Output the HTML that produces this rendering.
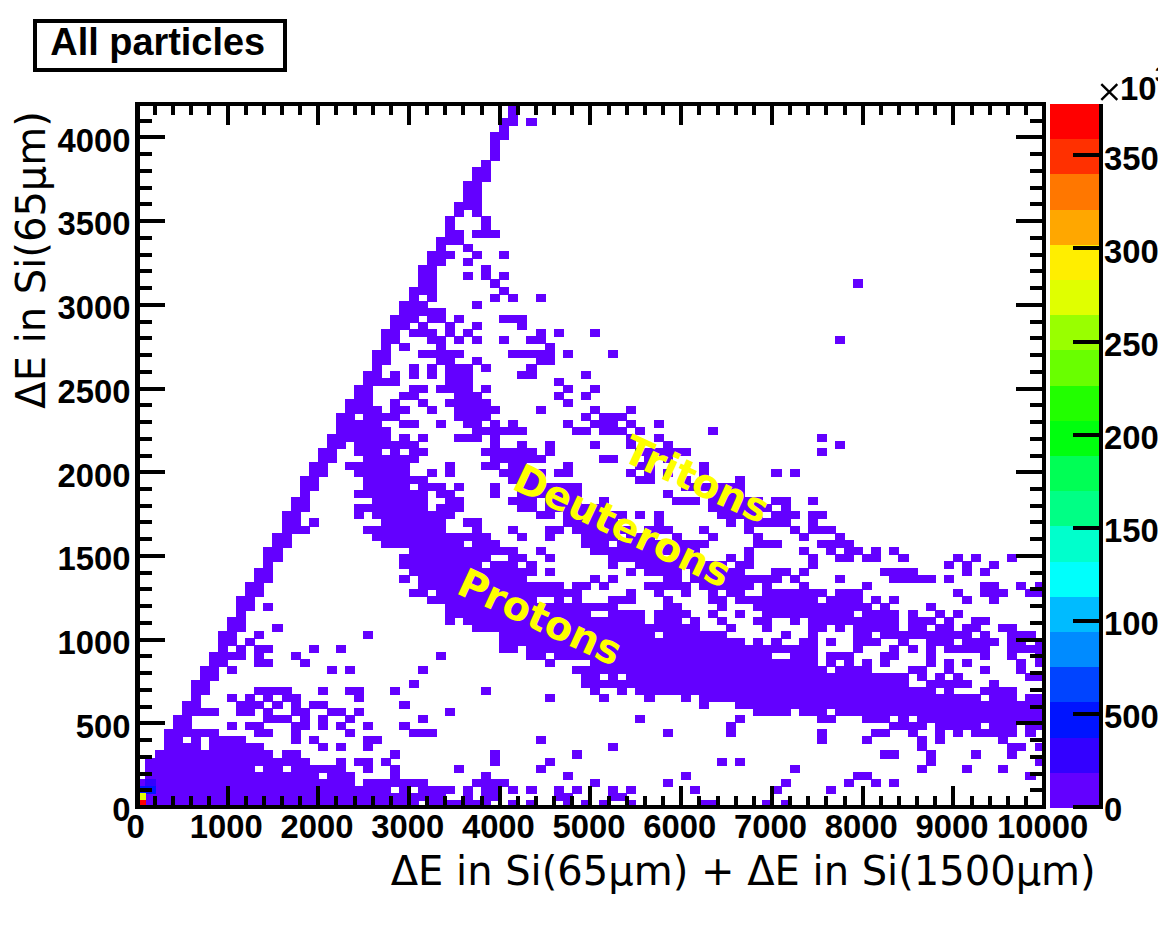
<!DOCTYPE html>
<html><head><meta charset="utf-8"><title>All particles</title>
<style>html,body{margin:0;padding:0;background:#fff}body{width:1164px;height:927px;overflow:hidden}svg{display:block}text{font-family:"Liberation Sans",sans-serif;font-weight:bold;fill:#000}</style></head><body>
<svg width="1164" height="927" viewBox="0 0 1164 927">
<rect width="1164" height="927" fill="#fff"/>
<g shape-rendering="crispEdges">
<path fill="#6300ff" d="M145 800h274v8h-274zM427 800h64v8h-64zM508 800h10v8h-10zM526 800h11v8h-11zM563 800h10v8h-10zM581 800h10v8h-10zM599 800h10v8h-10zM626 800h10v8h-10zM699 800h19v8h-19zM762 800h10v8h-10zM781 800h10v8h-10zM145 793h301v8h-301zM463 793h10v8h-10zM481 793h19v8h-19zM554 793h19v8h-19zM608 793h19v8h-19zM155 786h236v8h-236zM399 786h11v8h-11zM418 786h37v8h-37zM463 786h10v8h-10zM481 786h19v8h-19zM508 786h10v8h-10zM526 786h11v8h-11zM554 786h10v8h-10zM572 786h10v8h-10zM608 786h10v8h-10zM626 786h10v8h-10zM690 786h10v8h-10zM771 786h11v8h-11zM826 786h10v8h-10zM136 779h10v8h-10zM155 779h200v8h-200zM363 779h65v8h-65zM472 779h37v8h-37zM590 779h10v8h-10zM663 779h10v8h-10zM781 779h10v8h-10zM844 779h10v8h-10zM871 779h10v8h-10zM889 779h10v8h-10zM145 772h174v8h-174zM327 772h28v8h-28zM390 772h10v8h-10zM481 772h10v8h-10zM563 772h10v8h-10zM681 772h10v8h-10zM853 772h19v8h-19zM1025 772h11v8h-11zM145 765h110v8h-110zM263 765h20v8h-20zM291 765h55v8h-55zM363 765h10v8h-10zM390 765h10v8h-10zM454 765h10v8h-10zM536 765h10v8h-10zM790 765h10v8h-10zM917 765h10v8h-10zM962 765h10v8h-10zM998 765h10v8h-10zM145 758h165v8h-165zM336 758h10v8h-10zM354 758h19v8h-19zM381 758h10v8h-10zM490 758h10v8h-10zM545 758h10v8h-10zM717 758h10v8h-10zM735 758h10v8h-10zM926 758h10v8h-10zM1035 758h10v8h-10zM155 750h118v9h-118zM282 750h19v9h-19zM390 750h10v9h-10zM490 750h10v9h-10zM572 750h10v9h-10zM880 750h19v9h-19zM926 750h10v9h-10zM971 750h10v9h-10zM1007 750h10v9h-10zM164 743h37v8h-37zM209 743h55v8h-55zM318 743h10v8h-10zM336 743h10v8h-10zM363 743h10v8h-10zM608 743h10v8h-10zM917 743h10v8h-10zM1007 743h19v8h-19zM1035 743h10v8h-10zM164 736h19v8h-19zM191 736h10v8h-10zM209 736h37v8h-37zM291 736h10v8h-10zM309 736h10v8h-10zM363 736h19v8h-19zM536 736h10v8h-10zM817 736h10v8h-10zM862 736h10v8h-10zM917 736h10v8h-10zM935 736h10v8h-10zM998 736h10v8h-10zM164 729h55v8h-55zM254 729h19v8h-19zM291 729h10v8h-10zM345 729h10v8h-10zM409 729h28v8h-28zM663 729h10v8h-10zM726 729h10v8h-10zM817 729h10v8h-10zM871 729h19v8h-19zM908 729h10v8h-10zM935 729h10v8h-10zM953 729h10v8h-10zM971 729h46v8h-46zM1025 729h11v8h-11zM173 722h19v8h-19zM227 722h10v8h-10zM245 722h19v8h-19zM291 722h19v8h-19zM318 722h10v8h-10zM336 722h10v8h-10zM363 722h10v8h-10zM399 722h11v8h-11zM726 722h10v8h-10zM889 722h38v8h-38zM935 722h46v8h-46zM989 722h28v8h-28zM1025 722h20v8h-20zM173 715h19v8h-19zM263 715h29v8h-29zM300 715h10v8h-10zM318 715h10v8h-10zM345 715h10v8h-10zM418 715h10v8h-10zM635 715h10v8h-10zM735 715h10v8h-10zM817 715h19v8h-19zM862 715h28v8h-28zM898 715h11v8h-11zM917 715h128v8h-128zM182 708h37v8h-37zM236 708h19v8h-19zM263 708h10v8h-10zM291 708h19v8h-19zM327 708h19v8h-19zM354 708h10v8h-10zM445 708h10v8h-10zM753 708h38v8h-38zM799 708h28v8h-28zM835 708h210v8h-210zM182 701h19v8h-19zM236 701h28v8h-28zM272 701h11v8h-11zM291 701h10v8h-10zM309 701h19v8h-19zM399 701h11v8h-11zM699 701h10v8h-10zM735 701h310v8h-310zM191 694h10v8h-10zM227 694h10v8h-10zM245 694h10v8h-10zM263 694h10v8h-10zM282 694h19v8h-19zM354 694h10v8h-10zM545 694h10v8h-10zM599 694h10v8h-10zM644 694h11v8h-11zM681 694h10v8h-10zM699 694h282v8h-282zM989 694h28v8h-28zM1025 694h20v8h-20zM191 687h19v8h-19zM254 687h38v8h-38zM318 687h10v8h-10zM345 687h19v8h-19zM390 687h10v8h-10zM481 687h10v8h-10zM590 687h10v8h-10zM617 687h10v8h-10zM635 687h301v8h-301zM944 687h10v8h-10zM980 687h37v8h-37zM191 680h19v8h-19zM409 680h10v8h-10zM581 680h328v8h-328zM926 680h46v8h-46zM989 680h10v8h-10zM200 673h19v8h-19zM581 673h19v8h-19zM608 673h10v8h-10zM626 673h283v8h-283zM917 673h10v8h-10zM935 673h10v8h-10zM953 673h10v8h-10zM1025 673h20v8h-20zM200 666h19v8h-19zM227 666h10v8h-10zM327 666h10v8h-10zM345 666h10v8h-10zM418 666h10v8h-10zM572 666h255v8h-255zM835 666h37v8h-37zM908 666h19v8h-19zM944 666h10v8h-10zM980 666h10v8h-10zM1016 666h10v8h-10zM209 659h19v8h-19zM254 659h19v8h-19zM300 659h10v8h-10zM545 659h10v8h-10zM590 659h228v8h-228zM826 659h10v8h-10zM844 659h10v8h-10zM862 659h10v8h-10zM880 659h10v8h-10zM926 659h10v8h-10zM944 659h10v8h-10zM962 659h10v8h-10zM1016 659h10v8h-10zM1035 659h10v8h-10zM209 652h37v8h-37zM254 652h10v8h-10zM291 652h10v8h-10zM436 652h10v8h-10zM526 652h20v8h-20zM554 652h218v8h-218zM790 652h28v8h-28zM826 652h28v8h-28zM880 652h19v8h-19zM926 652h10v8h-10zM980 652h10v8h-10zM1007 652h10v8h-10zM1035 652h10v8h-10zM218 645h10v8h-10zM236 645h10v8h-10zM254 645h19v8h-19zM309 645h10v8h-10zM336 645h10v8h-10zM499 645h19v8h-19zM526 645h292v8h-292zM853 645h10v8h-10zM889 645h10v8h-10zM908 645h10v8h-10zM926 645h10v8h-10zM944 645h46v8h-46zM1007 645h38v8h-38zM218 638h19v8h-19zM245 638h10v8h-10zM499 638h246v8h-246zM753 638h10v8h-10zM771 638h11v8h-11zM799 638h19v8h-19zM826 638h10v8h-10zM853 638h28v8h-28zM898 638h11v8h-11zM926 638h28v8h-28zM962 638h37v8h-37zM1007 638h19v8h-19zM1035 638h10v8h-10zM218 631h19v8h-19zM254 631h10v8h-10zM363 631h10v8h-10zM499 631h156v8h-156zM663 631h64v8h-64zM781 631h10v8h-10zM808 631h10v8h-10zM853 631h19v8h-19zM880 631h92v8h-92zM980 631h10v8h-10zM1007 631h29v8h-29zM227 624h19v8h-19zM272 624h11v8h-11zM472 624h228v8h-228zM726 624h10v8h-10zM762 624h10v8h-10zM808 624h19v8h-19zM835 624h10v8h-10zM853 624h46v8h-46zM908 624h19v8h-19zM935 624h19v8h-19zM962 624h19v8h-19zM998 624h19v8h-19zM227 617h19v8h-19zM445 617h10v8h-10zM463 617h182v8h-182zM654 617h28v8h-28zM690 617h10v8h-10zM717 617h10v8h-10zM753 617h19v8h-19zM790 617h10v8h-10zM808 617h91v8h-91zM908 617h28v8h-28zM944 617h10v8h-10zM971 617h19v8h-19zM236 610h10v8h-10zM445 610h146v8h-146zM608 610h37v8h-37zM654 610h37v8h-37zM708 610h10v8h-10zM735 610h10v8h-10zM762 610h92v8h-92zM862 610h37v8h-37zM908 610h10v8h-10zM935 610h10v8h-10zM953 610h10v8h-10zM236 603h19v8h-19zM263 603h10v8h-10zM445 603h173v8h-173zM663 603h19v8h-19zM717 603h10v8h-10zM753 603h119v8h-119zM880 603h10v8h-10zM926 603h10v8h-10zM236 596h19v8h-19zM427 596h110v8h-110zM554 596h10v8h-10zM572 596h10v8h-10zM608 596h28v8h-28zM663 596h10v8h-10zM708 596h19v8h-19zM735 596h83v8h-83zM826 596h37v8h-37zM871 596h10v8h-10zM889 596h10v8h-10zM962 596h10v8h-10zM989 596h10v8h-10zM245 589h19v8h-19zM409 589h19v8h-19zM436 589h146v8h-146zM626 589h10v8h-10zM654 589h10v8h-10zM681 589h10v8h-10zM708 589h10v8h-10zM726 589h19v8h-19zM762 589h65v8h-65zM835 589h28v8h-28zM953 589h10v8h-10zM980 589h28v8h-28zM1025 589h20v8h-20zM245 582h19v8h-19zM418 582h146v8h-146zM572 582h19v8h-19zM599 582h10v8h-10zM644 582h47v8h-47zM699 582h55v8h-55zM762 582h10v8h-10zM799 582h10v8h-10zM862 582h10v8h-10zM980 582h19v8h-19zM1016 582h10v8h-10zM1035 582h10v8h-10zM254 575h19v8h-19zM399 575h11v8h-11zM418 575h109v8h-109zM590 575h10v8h-10zM608 575h10v8h-10zM663 575h19v8h-19zM690 575h92v8h-92zM790 575h10v8h-10zM835 575h10v8h-10zM889 575h47v8h-47zM944 575h10v8h-10zM254 568h19v8h-19zM409 568h128v8h-128zM545 568h10v8h-10zM626 568h10v8h-10zM644 568h38v8h-38zM690 568h55v8h-55zM771 568h20v8h-20zM799 568h10v8h-10zM880 568h38v8h-38zM962 568h10v8h-10zM980 568h10v8h-10zM263 561h10v8h-10zM399 561h83v8h-83zM490 561h28v8h-28zM526 561h11v8h-11zM608 561h10v8h-10zM635 561h92v8h-92zM735 561h19v8h-19zM808 561h10v8h-10zM944 561h10v8h-10zM962 561h10v8h-10zM989 561h10v8h-10zM263 554h20v8h-20zM399 554h92v8h-92zM508 554h19v8h-19zM545 554h10v8h-10zM608 554h56v8h-56zM672 554h28v8h-28zM726 554h10v8h-10zM744 554h10v8h-10zM808 554h10v8h-10zM835 554h19v8h-19zM862 554h19v8h-19zM898 554h11v8h-11zM953 554h10v8h-10zM971 554h10v8h-10zM1007 554h10v8h-10zM263 547h20v8h-20zM409 547h109v8h-109zM536 547h10v8h-10zM590 547h110v8h-110zM744 547h10v8h-10zM799 547h10v8h-10zM826 547h10v8h-10zM844 547h19v8h-19zM871 547h10v8h-10zM889 547h10v8h-10zM272 540h20v8h-20zM381 540h83v8h-83zM472 540h28v8h-28zM581 540h28v8h-28zM617 540h92v8h-92zM753 540h29v8h-29zM817 540h37v8h-37zM272 533h20v8h-20zM372 533h119v8h-119zM517 533h10v8h-10zM545 533h10v8h-10zM581 533h37v8h-37zM626 533h29v8h-29zM672 533h10v8h-10zM708 533h10v8h-10zM753 533h10v8h-10zM799 533h10v8h-10zM835 533h10v8h-10zM282 526h28v8h-28zM363 526h83v8h-83zM472 526h10v8h-10zM508 526h10v8h-10zM545 526h19v8h-19zM572 526h64v8h-64zM644 526h29v8h-29zM699 526h10v8h-10zM744 526h10v8h-10zM790 526h10v8h-10zM808 526h28v8h-28zM282 518h19v9h-19zM309 518h10v9h-10zM381 518h65v9h-65zM463 518h19v9h-19zM563 518h55v9h-55zM654 518h10v9h-10zM726 518h10v9h-10zM744 518h47v9h-47zM808 518h10v9h-10zM282 511h19v8h-19zM354 511h10v8h-10zM372 511h83v8h-83zM536 511h19v8h-19zM563 511h64v8h-64zM635 511h10v8h-10zM654 511h10v8h-10zM717 511h46v8h-46zM771 511h29v8h-29zM808 511h19v8h-19zM291 504h19v8h-19zM354 504h74v8h-74zM436 504h28v8h-28zM517 504h20v8h-20zM545 504h64v8h-64zM708 504h64v8h-64zM781 504h10v8h-10zM291 497h19v8h-19zM372 497h56v8h-56zM445 497h19v8h-19zM508 497h29v8h-29zM545 497h37v8h-37zM599 497h10v8h-10zM672 497h28v8h-28zM708 497h55v8h-55zM771 497h20v8h-20zM808 497h10v8h-10zM300 490h10v8h-10zM354 490h74v8h-74zM436 490h19v8h-19zM490 490h10v8h-10zM517 490h65v8h-65zM663 490h10v8h-10zM708 490h37v8h-37zM300 483h19v8h-19zM363 483h47v8h-47zM418 483h28v8h-28zM454 483h10v8h-10zM490 483h10v8h-10zM517 483h65v8h-65zM681 483h64v8h-64zM300 476h19v8h-19zM363 476h65v8h-65zM508 476h38v8h-38zM635 476h20v8h-20zM681 476h10v8h-10zM735 476h10v8h-10zM309 469h19v8h-19zM354 469h56v8h-56zM427 469h10v8h-10zM445 469h10v8h-10zM499 469h47v8h-47zM554 469h19v8h-19zM626 469h10v8h-10zM644 469h11v8h-11zM663 469h10v8h-10zM699 469h10v8h-10zM771 469h11v8h-11zM790 469h10v8h-10zM309 462h19v8h-19zM345 462h65v8h-65zM445 462h10v8h-10zM481 462h19v8h-19zM508 462h19v8h-19zM563 462h10v8h-10zM635 462h20v8h-20zM699 462h10v8h-10zM318 455h19v8h-19zM363 455h56v8h-56zM490 455h56v8h-56zM599 455h19v8h-19zM644 455h11v8h-11zM663 455h10v8h-10zM318 448h19v8h-19zM354 448h28v8h-28zM390 448h10v8h-10zM409 448h19v8h-19zM481 448h56v8h-56zM545 448h10v8h-10zM635 448h56v8h-56zM817 448h10v8h-10zM327 441h19v8h-19zM354 441h65v8h-65zM490 441h10v8h-10zM517 441h10v8h-10zM545 441h10v8h-10zM590 441h10v8h-10zM626 441h10v8h-10zM663 441h10v8h-10zM835 441h10v8h-10zM327 434h64v8h-64zM399 434h11v8h-11zM418 434h10v8h-10zM454 434h28v8h-28zM490 434h10v8h-10zM626 434h10v8h-10zM654 434h10v8h-10zM817 434h10v8h-10zM336 427h55v8h-55zM472 427h55v8h-55zM572 427h19v8h-19zM599 427h28v8h-28zM635 427h10v8h-10zM708 427h10v8h-10zM336 420h46v8h-46zM399 420h20v8h-20zM436 420h10v8h-10zM463 420h19v8h-19zM490 420h10v8h-10zM508 420h10v8h-10zM563 420h10v8h-10zM590 420h28v8h-28zM626 420h10v8h-10zM654 420h10v8h-10zM336 413h19v8h-19zM363 413h37v8h-37zM454 413h37v8h-37zM581 413h10v8h-10zM599 413h28v8h-28zM345 406h37v8h-37zM390 406h20v8h-20zM427 406h10v8h-10zM454 406h46v8h-46zM536 406h10v8h-10zM590 406h10v8h-10zM626 406h10v8h-10zM345 399h28v8h-28zM390 399h10v8h-10zM418 399h10v8h-10zM445 399h46v8h-46zM563 399h10v8h-10zM354 392h19v8h-19zM399 392h20v8h-20zM454 392h28v8h-28zM554 392h10v8h-10zM581 392h10v8h-10zM354 385h19v8h-19zM409 385h19v8h-19zM436 385h37v8h-37zM481 385h10v8h-10zM563 385h10v8h-10zM590 385h10v8h-10zM363 378h37v8h-37zM445 378h28v8h-28zM554 378h10v8h-10zM363 371h19v8h-19zM390 371h10v8h-10zM409 371h10v8h-10zM427 371h10v8h-10zM445 371h28v8h-28zM517 371h20v8h-20zM581 371h10v8h-10zM372 364h10v8h-10zM409 364h10v8h-10zM427 364h10v8h-10zM445 364h28v8h-28zM481 364h10v8h-10zM526 364h11v8h-11zM372 357h19v8h-19zM436 357h19v8h-19zM472 357h10v8h-10zM536 357h19v8h-19zM372 350h19v8h-19zM418 350h46v8h-46zM508 350h47v8h-47zM563 350h10v8h-10zM608 350h10v8h-10zM381 343h10v8h-10zM399 343h11v8h-11zM436 343h10v8h-10zM545 343h10v8h-10zM381 336h19v8h-19zM427 336h19v8h-19zM454 336h10v8h-10zM472 336h10v8h-10zM499 336h10v8h-10zM526 336h20v8h-20zM835 336h10v8h-10zM381 329h19v8h-19zM409 329h28v8h-28zM445 329h10v8h-10zM463 329h10v8h-10zM536 329h10v8h-10zM554 329h10v8h-10zM590 329h10v8h-10zM390 322h20v8h-20zM418 322h10v8h-10zM445 322h10v8h-10zM472 322h10v8h-10zM517 322h10v8h-10zM390 315h29v8h-29zM427 315h19v8h-19zM454 315h10v8h-10zM499 315h28v8h-28zM399 308h47v8h-47zM399 301h29v8h-29zM472 301h10v8h-10zM409 294h10v8h-10zM427 294h10v8h-10zM490 294h10v8h-10zM508 294h10v8h-10zM536 294h10v8h-10zM409 287h28v8h-28zM499 287h10v8h-10zM418 279h19v9h-19zM490 279h10v9h-10zM853 279h10v9h-10zM418 272h19v8h-19zM463 272h10v8h-10zM481 272h10v8h-10zM499 272h10v8h-10zM418 265h19v8h-19zM481 265h10v8h-10zM427 258h19v8h-19zM463 258h10v8h-10zM427 251h28v8h-28zM472 251h10v8h-10zM499 251h10v8h-10zM436 244h10v8h-10zM463 244h10v8h-10zM436 237h28v8h-28zM445 230h19v8h-19zM472 230h28v8h-28zM445 223h10v8h-10zM481 223h10v8h-10zM445 216h10v8h-10zM481 216h10v8h-10zM454 209h10v8h-10zM472 209h10v8h-10zM454 202h28v8h-28zM463 195h19v8h-19zM463 188h19v8h-19zM463 181h19v8h-19zM472 174h19v8h-19zM472 167h19v8h-19zM481 160h10v8h-10zM490 153h10v8h-10zM490 146h10v8h-10zM490 139h10v8h-10zM490 132h19v8h-19zM499 125h10v8h-10zM499 118h19v8h-19zM526 118h11v8h-11zM508 111h10v8h-10zM508 104h10v8h-10z"/>
<path fill="#3300ff" d="M145 779h11v8h-11z"/>
<path fill="#0014ff" d="M136 786h20v8h-20z"/>
<path fill="#e0ff00" d="M136 793h10v8h-10z"/>
<path fill="#ff0000" d="M136 800h10v8h-10z"/>
</g>
<g shape-rendering="crispEdges">
<rect x="1050" y="773" width="51" height="35" fill="#6300ff"/>
<rect x="1050" y="738" width="51" height="35" fill="#3300ff"/>
<rect x="1050" y="702" width="51" height="36" fill="#0014ff"/>
<rect x="1050" y="667" width="51" height="35" fill="#0044ff"/>
<rect x="1050" y="632" width="51" height="35" fill="#008bff"/>
<rect x="1050" y="597" width="51" height="35" fill="#00bbff"/>
<rect x="1050" y="562" width="51" height="35" fill="#00fffc"/>
<rect x="1050" y="526" width="51" height="36" fill="#00ffcc"/>
<rect x="1050" y="491" width="51" height="35" fill="#00ff85"/>
<rect x="1050" y="456" width="51" height="35" fill="#00ff55"/>
<rect x="1050" y="421" width="51" height="35" fill="#00ff0e"/>
<rect x="1050" y="386" width="51" height="35" fill="#22ff00"/>
<rect x="1050" y="350" width="51" height="36" fill="#69ff00"/>
<rect x="1050" y="315" width="51" height="35" fill="#99ff00"/>
<rect x="1050" y="280" width="51" height="35" fill="#e0ff00"/>
<rect x="1050" y="245" width="51" height="35" fill="#ffee00"/>
<rect x="1050" y="210" width="51" height="35" fill="#ffa700"/>
<rect x="1050" y="174" width="51" height="36" fill="#ff7700"/>
<rect x="1050" y="139" width="51" height="35" fill="#ff3000"/>
<rect x="1050" y="104" width="51" height="35" fill="#ff0000"/>
</g>
<path d="M137 807v-21M137 104v21M155 807v-11M155 104v11M173 807v-11M173 104v11M191 807v-11M191 104v11M209 807v-11M209 104v11M228 807v-21M228 104v21M246 807v-11M246 104v11M264 807v-11M264 104v11M282 807v-11M282 104v11M300 807v-11M300 104v11M318 807v-21M318 104v21M336 807v-11M336 104v11M355 807v-11M355 104v11M373 807v-11M373 104v11M391 807v-11M391 104v11M409 807v-21M409 104v21M427 807v-11M427 104v11M445 807v-11M445 104v11M463 807v-11M463 104v11M482 807v-11M482 104v11M500 807v-21M500 104v21M518 807v-11M518 104v11M536 807v-11M536 104v11M554 807v-11M554 104v11M572 807v-11M572 104v11M590 807v-21M590 104v21M609 807v-11M609 104v11M627 807v-11M627 104v11M645 807v-11M645 104v11M663 807v-11M663 104v11M681 807v-21M681 104v21M699 807v-11M699 104v11M718 807v-11M718 104v11M736 807v-11M736 104v11M754 807v-11M754 104v11M772 807v-21M772 104v21M790 807v-11M790 104v11M808 807v-11M808 104v11M826 807v-11M826 104v11M845 807v-11M845 104v11M863 807v-21M863 104v21M881 807v-11M881 104v11M899 807v-11M899 104v11M917 807v-11M917 104v11M935 807v-11M935 104v11M953 807v-21M953 104v21M972 807v-11M972 104v11M990 807v-11M990 104v11M1008 807v-11M1008 104v11M1026 807v-11M1026 104v11M1044 807v-21M1044 104v21M137 807h28M1044 807h-28M137 790h15M1044 790h-14M137 774h15M1044 774h-14M137 757h15M1044 757h-14M137 740h15M1044 740h-14M137 723h28M1044 723h-28M137 707h15M1044 707h-14M137 690h15M1044 690h-14M137 673h15M1044 673h-14M137 656h15M1044 656h-14M137 640h28M1044 640h-28M137 623h15M1044 623h-14M137 606h15M1044 606h-14M137 589h15M1044 589h-14M137 573h15M1044 573h-14M137 556h28M1044 556h-28M137 539h15M1044 539h-14M137 522h15M1044 522h-14M137 506h15M1044 506h-14M137 489h15M1044 489h-14M137 472h28M1044 472h-28M137 456h15M1044 456h-14M137 439h15M1044 439h-14M137 422h15M1044 422h-14M137 405h15M1044 405h-14M137 389h28M1044 389h-28M137 372h15M1044 372h-14M137 355h15M1044 355h-14M137 338h15M1044 338h-14M137 322h15M1044 322h-14M137 305h28M1044 305h-28M137 288h15M1044 288h-14M137 271h15M1044 271h-14M137 255h15M1044 255h-14M137 238h15M1044 238h-14M137 221h28M1044 221h-28M137 204h15M1044 204h-14M137 188h15M1044 188h-14M137 171h15M1044 171h-14M137 154h15M1044 154h-14M137 137h28M1044 137h-28M137 121h15M1044 121h-14M137 104h15M1044 104h-14" stroke="#000" stroke-width="4" fill="none" shape-rendering="crispEdges"/>
<path d="M135 102H1046V809H135zM140 106V805H1042V106z" fill="#000" fill-rule="evenodd" shape-rendering="crispEdges"/>
<path d="M1101 104V809M1101 807h-28M1101 714h-28M1101 621h-28M1101 528h-28M1101 435h-28M1101 342h-28M1101 248h-28M1101 155h-28" stroke="#000" stroke-width="4" fill="none" shape-rendering="crispEdges"/>
<text x="126.38" y="838.4" font-size="32.8">0</text>
<text x="189.74" y="838.4" font-size="32.8">1000</text>
<text x="280.46" y="838.4" font-size="32.8">2000</text>
<text x="371.18" y="838.4" font-size="32.8">3000</text>
<text x="461.9" y="838.4" font-size="32.8">4000</text>
<text x="552.62" y="838.4" font-size="32.8">5000</text>
<text x="643.34" y="838.4" font-size="32.8">6000</text>
<text x="734.06" y="838.4" font-size="32.8">7000</text>
<text x="824.78" y="838.4" font-size="32.8">8000</text>
<text x="915.5" y="838.4" font-size="32.8">9000</text>
<text x="997.1" y="838.4" font-size="32.8">10000</text>
<text x="112.16" y="821.3" font-size="32.8">0</text>
<text x="75.67" y="737.61" font-size="32.8">500</text>
<text x="57.43" y="653.92" font-size="32.8">1000</text>
<text x="57.43" y="570.23" font-size="32.8">1500</text>
<text x="57.43" y="486.54" font-size="32.8">2000</text>
<text x="57.43" y="402.85" font-size="32.8">2500</text>
<text x="57.43" y="319.16" font-size="32.8">3000</text>
<text x="57.43" y="235.47" font-size="32.8">3500</text>
<text x="57.43" y="151.78" font-size="32.8">4000</text>
<text x="1104" y="821.3" font-size="32.8">0</text>
<text x="1104" y="728.2" font-size="32.8">500</text>
<text x="1104" y="635.1" font-size="32.8">1000</text>
<text x="1104" y="542" font-size="32.8">1500</text>
<text x="1104" y="448.9" font-size="32.8">2000</text>
<text x="1104" y="355.8" font-size="32.8">2500</text>
<text x="1104" y="262.7" font-size="32.8">3000</text>
<text x="1104" y="169.6" font-size="32.8">3500</text>
<text x="1120" y="100.3" font-size="32.8">10</text>
<text x="1155" y="81.6" font-size="21.5">3</text>
<path d="M1101.3 84.2l16 15.6M1117.3 84.2l-16 15.6" stroke="#000" stroke-width="2.4" fill="none"/>
<rect x="1158" y="0" width="6" height="927" fill="#fff"/>
<rect x="35" y="21" width="250" height="49" fill="#fff" stroke="#000" stroke-width="4" shape-rendering="crispEdges"/>
<text x="50.3" y="55" font-size="37.9">All particles</text>
<text x="390.7" y="885" font-size="40" style="font-family:'DejaVu Sans','Liberation Sans',sans-serif;font-weight:normal">ΔE in Si(65μm) + ΔE in Si(1500μm)</text>
<text transform="translate(44.5,408.7) rotate(-90)" font-size="40" style="font-family:'DejaVu Sans','Liberation Sans',sans-serif;font-weight:normal">ΔE in Si(65μm)</text>
<text transform="translate(454.7,592.8) rotate(24.8)" font-size="40" style="font-family:'DejaVu Sans','Liberation Sans',sans-serif;font-weight:bold;fill:#ffff00">Protons</text>
<text transform="translate(510.6,488.2) rotate(25.3)" font-size="40" style="font-family:'DejaVu Sans','Liberation Sans',sans-serif;font-weight:bold;fill:#ffff00">Deuterons</text>
<text transform="translate(620.2,459.8) rotate(24.5)" font-size="40" style="font-family:'DejaVu Sans','Liberation Sans',sans-serif;font-weight:bold;fill:#ffff00">Tritons</text>
</svg></body></html>
